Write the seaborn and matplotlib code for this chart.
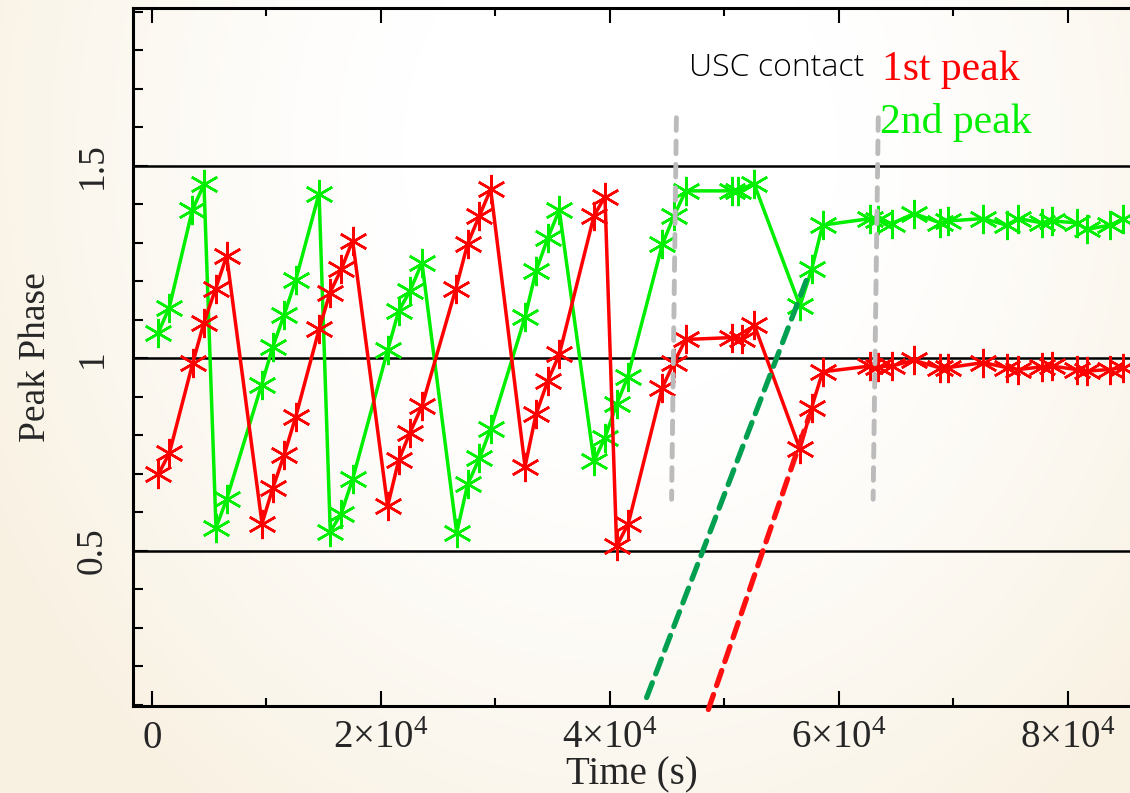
import numpy as np
import pandas as pd
import matplotlib
matplotlib.use("Agg")
import matplotlib.pyplot as plt
import seaborn as sns
from matplotlib.ticker import MultipleLocator, FixedLocator

# ---------------- data ----------------
time_2nd = [550, 1510, 3520, 4540, 5590, 6520, 9580, 10540, 11530, 12550, 14590, 15570,
            16530, 17520, 20580, 21540, 22530, 23580, 26610, 27570, 28590, 29580, 32580,
            33540, 34560, 35570, 38600, 39560, 40580, 41540, 44570, 45590, 46610, 50630,
            51210, 52600, 56590, 57610, 58570, 62700, 63400, 64600, 66560, 68820, 69550,
            72610, 74640, 75660, 77700, 78570, 80750, 81630, 83670, 84840]
phase_2nd = [1.067, 1.132, 1.385, 1.452, 0.560, 0.634, 0.932, 1.029, 1.112, 1.203, 1.428, 0.550,
             0.597, 0.686, 1.021, 1.123, 1.175, 1.248, 0.547, 0.673, 0.740, 0.817, 1.107,
             1.227, 1.312, 1.385, 0.733, 0.794, 0.881, 0.951, 1.296, 1.370, 1.435, 1.435,
             1.435, 1.452, 1.136, 1.231, 1.346, 1.363, 1.360, 1.350, 1.376, 1.352, 1.357,
             1.363, 1.346, 1.363, 1.352, 1.357, 1.352, 1.335, 1.346, 1.362]

time_1st = [550, 1510, 3550, 4540, 5560, 6520, 9610, 10540, 11530, 12550, 14590, 15550,
            16530, 17520, 20580, 21540, 22530, 23580, 26520, 27570, 28590, 29580, 32580,
            33540, 34560, 35570, 38600, 39560, 40580, 41600, 44570, 45590, 46610, 50630,
            51500, 52600, 56590, 57610, 58570, 62700, 63400, 64600, 66560, 68820, 69550,
            72610, 74640, 75660, 77700, 78570, 80750, 81630, 83670, 84840]
phase_1st = [0.699, 0.753, 0.987, 1.093, 1.181, 1.266, 0.571, 0.662, 0.748, 0.848, 1.075, 1.171,
             1.231, 1.306, 0.616, 0.735, 0.807, 0.876, 1.179, 1.298, 1.370, 1.439, 0.719,
             0.855, 0.941, 1.010, 1.370, 1.420, 0.512, 0.571, 0.924, 0.989, 1.049, 1.054,
             1.049, 1.087, 0.764, 0.872, 0.965, 0.980, 0.978, 0.980, 0.995, 0.975, 0.976,
             0.989, 0.976, 0.971, 0.978, 0.980, 0.971, 0.967, 0.971, 0.976]

ref_levels = [0.5, 1.0, 1.5]

# vertical "USC contact" markers (top x, bottom x), y span
usc_x_top = [45800, 63430]
usc_x_bot = [45380, 62980]
usc_y = [1.625, 0.634]

# dashed trend lines
trend_green_x = [43200, 57180]
trend_green_y = [0.119, 1.205]
trend_red_x = [48590, 57400]
trend_red_y = [0.088, 0.85]

xticks = [0, 20000, 40000, 60000, 80000]
xticklabels = ["0", r"$2{\times}10^{4}$", r"$4{\times}10^{4}$", r"$6{\times}10^{4}$", r"$8{\times}10^{4}$"]
yticks = [0.5, 1.0, 1.5]
yticklabels = ["0.5", "1", "1.5"]

# ---------------- style ----------------
sns.set_theme(style="white")
plt.rcParams["font.family"] = ["Liberation Serif", "DejaVu Serif"]
plt.rcParams["mathtext.fontset"] = "custom"
plt.rcParams["mathtext.rm"] = "Liberation Serif"
plt.rcParams["mathtext.it"] = "Liberation Serif:italic"

W, H = 1130, 793
fig = plt.figure(figsize=(W / 100, H / 100), dpi=100)

# background gradient
bg = fig.add_axes([0, 0, 1, 1], zorder=-10)
yy, xx = np.mgrid[0:H, 0:W]
d = np.sqrt(((xx - 620) / 620.0) ** 2 + ((yy - 150) / 720.0) ** 2)
t = np.clip((d - 0.35) / 0.8, 0, 1) ** 1.3
white = np.array([1.0, 1.0, 1.0])
beige = np.array([0.975, 0.945, 0.885])
img = white[None, None, :] * (1 - t[..., None]) + beige[None, None, :] * t[..., None]
bg.imshow(img, aspect="auto", extent=[0, 1, 0, 1], origin="upper")
bg.axis("off")

ax = fig.add_axes([133 / W, 1 - 706 / H, (W - 133) / W, (706 - 8) / H])
ax.set_facecolor("none")

df1 = pd.DataFrame({"Time": time_1st, "Phase": phase_1st})
df2 = pd.DataFrame({"Time": time_2nd, "Phase": phase_2nd})

mk = dict(marker=(6, 2, 0), markersize=21, markeredgewidth=1.8)
sns.lineplot(data=df2, x="Time", y="Phase", ax=ax, color="#00EE00", lw=2.5, sort=False,
             estimator=None, markeredgecolor="#00EE00", zorder=4, **mk)
sns.lineplot(data=df1, x="Time", y="Phase", ax=ax, color="#FF0000", lw=2.5, sort=False,
             estimator=None, markeredgecolor="#FF0000", zorder=5, **mk)

for lv in ref_levels:
    ax.axhline(lv, color="black", lw=1.8, zorder=3)

for xt, xb in zip(usc_x_top, usc_x_bot):
    ax.plot([xt, xb], usc_y, color="#BBBBBB", lw=3.5, ls=(0, (2.6, 2.2)),
            solid_capstyle="round", dash_capstyle="round", zorder=6)

ax.plot(trend_green_x, trend_green_y, color="#00A050", lw=3.8, ls=(0, (3.0, 1.8)),
        dash_capstyle="round", zorder=7, clip_on=False)
ax.plot(trend_red_x, trend_red_y, color="#FF1010", lw=3.8, ls=(0, (3.0, 1.8)),
        dash_capstyle="round", zorder=7, clip_on=False)

ax.set_xlim(-1659, 85415)
ax.set_ylim(0.097, 1.910)

ax.xaxis.set_major_locator(FixedLocator(xticks))
ax.set_xticklabels(xticklabels, fontsize=28)
ax.xaxis.set_minor_locator(MultipleLocator(10000))
ax.yaxis.set_major_locator(FixedLocator(yticks))
ax.set_yticklabels(yticklabels, fontsize=27, rotation=90, va="center")
ax.yaxis.set_minor_locator(MultipleLocator(0.1))

ax.tick_params(axis="both", which="both", direction="in", color="black")
ax.tick_params(axis="x", which="major", length=11, width=1.5, top=True, bottom=True, pad=10)
ax.tick_params(axis="x", which="minor", length=6, width=1.5, top=True, bottom=True)
ax.tick_params(axis="y", which="major", length=11, width=1.5, left=True, right=False, pad=17)
ax.tick_params(axis="y", which="minor", length=7, width=1.5, left=True, right=False)

for s in ["left", "bottom", "top"]:
    ax.spines[s].set_visible(True)
    ax.spines[s].set_color("black")
    ax.spines[s].set_linewidth(2.2)
ax.spines["right"].set_visible(False)

ax.set_xlabel("Time (s)", fontsize=28, labelpad=0)
ax.set_ylabel("Peak Phase", fontsize=27, labelpad=16)

ax.text(777 / W, 1 - 68 / H, "USC contact", transform=fig.transFigure, fontsize=23,
        family=["Open Sans", "DejaVu Sans"], fontweight="light", color="black",
        ha="center", va="center")
ax.text(882 / W, 1 - 70 / H, "1st peak", transform=fig.transFigure, fontsize=30,
        color="#FF0000", ha="left", va="center")
ax.text(880 / W, 1 - 123 / H, "2nd peak", transform=fig.transFigure, fontsize=30,
        color="#00EE00", ha="left", va="center")

fig.savefig("out.png", dpi=100)
